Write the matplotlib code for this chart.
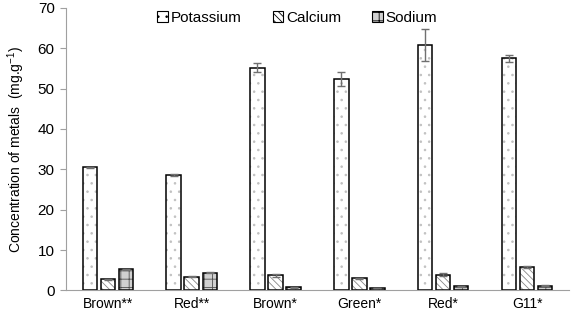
import numpy as np
import matplotlib
matplotlib.use('Agg')
import matplotlib.pyplot as plt

plt.rcParams['font.family'] = ['Liberation Sans', 'DejaVu Sans']
plt.rcParams['hatch.linewidth'] = 0.6

# data
samples = ['Brown**', 'Red**', 'Brown*', 'Green*', 'Red*', 'G11*']
potassium = [30.5, 28.6, 55.2, 52.4, 60.8, 57.5]
potassium_err = [0.15, 0.15, 1.1, 1.8, 4.0, 0.8]
calcium = [2.8, 3.4, 3.7, 3.0, 3.9, 5.8]
calcium_err = [0.1, 0.1, 0.35, 0.15, 0.35, 0.15]
sodium = [5.2, 4.4, 0.8, 0.6, 1.0, 1.2]
sodium_err = [0.1, 0.15, 0.1, 0.05, 0.15, 0.15]

series = [('Potassium', potassium, potassium_err, '..', 'white', '#c0c0c0'),
          ('Calcium', calcium, calcium_err, '\\\\\\\\\\', 'white', '#888888'),
          ('Sodium', sodium, sodium_err, '++', '#d0d0d0', '#505050')]

fig = plt.figure(figsize=(5.72, 3.15), dpi=100)
ax = fig.add_axes([0.115, 0.078, 0.88, 0.897])

x = np.arange(len(samples))
width = 0.17
offsets = [-0.215, 0.0, 0.215]

handles = []
for (name, vals, errs, hatch, fc, hc), off in zip(series, offsets):
    # hatched fill first, then black outline on top
    ax.bar(x + off, vals, width, color=fc, edgecolor=hc, hatch=hatch, linewidth=0)
    ax.bar(x + off, vals, width, fill=False, edgecolor='black', linewidth=1.1)
    ax.errorbar(x + off, vals, yerr=errs, fmt='none', ecolor='#707070',
                elinewidth=1, capsize=3, capthick=1)
    h = plt.Rectangle((0, 0), 1, 1, facecolor=fc, edgecolor='black', hatch=hatch,
                      linewidth=0.8)
    handles.append((h, name))

ax.set_xlim(-0.5, len(samples) - 0.5)
ax.set_ylim(0, 70)
ax.set_yticks(np.arange(0, 71, 10))
ax.set_xticks(x)
ax.set_xticklabels(samples, fontsize=10)
ax.tick_params(axis='x', length=0, pad=5)
ax.tick_params(axis='y', length=4, color='#a0a0a0', labelsize=11, pad=4)

for s in ['top', 'right']:
    ax.spines[s].set_visible(False)
for s in ['left', 'bottom']:
    ax.spines[s].set_color('#a0a0a0')

ax.set_ylabel('Concentration of metals  (mg.g$^{\\mathregular{-1}}$)', fontsize=10, labelpad=8)

fig.legend([h for h, n in handles], [n for h, n in handles], loc='upper center',
           bbox_to_anchor=(0.52, 1.01), ncol=3, frameon=False, fontsize=11,
           handlelength=0.7, handleheight=0.7, handletextpad=0.2, columnspacing=2.0)

plt.savefig('out.png', dpi=100)
